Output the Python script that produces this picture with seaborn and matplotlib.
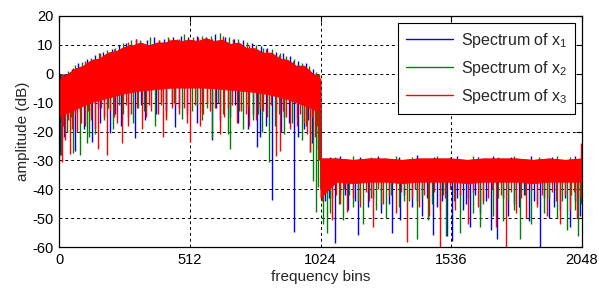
import numpy as np
import pandas as pd
import matplotlib
matplotlib.use("Agg")
import matplotlib.pyplot as plt
import seaborn as sns

# ---------------- data ----------------
LABELS = ["Spectrum of x$_{\\mathregular{1}}$",
          "Spectrum of x$_{\\mathregular{2}}$",
          "Spectrum of x$_{\\mathregular{3}}$"]
COLORS = ["#0000ff", "#008000", "#ff0000"]

# upper edge knots (frequency bins)
UP_BINS = list(range(0, 1025, 32)) + [1025] + list(range(1088, 2049, 64))
# lower edge knots
LO_BINS = list(range(0, 1025, 64)) + [1025] + list(range(1088, 2049, 64))

x1_upper = [-3, -1, 1, 2, 4, 4.5, 6.5, 7, 8.5, 9, 10, 9, 10, 10, 11, 10.5, 11,
            10.5, 11.5, 10.5, 11, 9.5, 10, 8, 8, 6.5, 6.5, 4.5, 4, 2, 2, -0.5, -2.5,
            -30, -30, -30.5, -30, -30, -30.5, -30, -30, -30, -30.5, -30, -30, -30, -30.5, -30, -30.5, -30]
x2_upper = [-3, -1, 1, 2, 4, 4.5, 6.5, 7, 8.5, 9, 10, 9, 10, 10, 11, 10.5, 11,
            10.5, 11.5, 10.5, 11, 9.5, 10, 8, 8, 6.5, 6.5, 4.5, 4, 2, 2, -0.5, -2.5,
            -30, -30, -30.5, -30, -30, -30.5, -30, -30, -30, -30.5, -30, -30, -30, -30.5, -30, -30.5, -30]
x3_upper = [-2.5, -0.5, 1.5, 2.5, 4.5, 5, 7, 7.5, 9, 9.5, 10.5, 9.5, 10.5, 10.5, 11.5, 11, 11.5,
            11, 12, 11, 11.5, 10, 10.5, 8.5, 8.5, 7, 7, 5, 4.5, 2.5, 2.5, 0, -2,
            -29.5, -29.5, -30, -29.5, -29.5, -30, -29.5, -29.5, -29.5, -30, -29.5, -29.5, -29.5, -30, -29.5, -30, -29.5]

x1_lower = [-12, -10, -8, -7, -6, -5, -5, -4.5, -4.5, -4.5, -5, -5.5, -6, -7, -8, -9, -11,
            -40, -37, -37, -37, -37, -37, -37, -37, -37, -37, -37, -37, -37, -37, -37, -37, -37]
x2_lower = [-12, -10, -8.5, -7, -6, -5.5, -5, -4.5, -4.5, -5, -5, -5.5, -6, -7, -8, -9.5, -11,
            -40, -37, -37, -37, -37, -37, -37, -37, -37, -37, -37, -37, -37, -37, -37, -37, -37]
x3_lower = [-15, -12.5, -10, -8.5, -7, -6, -5.5, -5, -5, -5, -5.5, -6, -6.5, -7.5, -9, -11, -13.5,
            -43, -37.5, -38, -37.5, -37.5, -38, -37.5, -37.5, -37.5, -38, -37.5, -37.5, -37.5, -38, -37.5, -37.5, -37.5]

# downward spikes: (bin, depth dB)
x1_dips = [(2, -28), (20, -22), (50, -15), (62, -26.6), (80, -13), (95, -19), (127, -23.5), (150, -12),
           (160, -17), (199, -20.5), (220, -14), (241, -18), (270, -15), (297, -22.2), (320, -11),
           (336, -16), (380, -14), (420, -13), (440, -10), (454, -18.3), (470, -12), (500, -14),
           (539, -17), (560, -11), (597, -23), (615, -12), (630, -16), (670, -15), (690, -11),
           (700, -17), (740, -19), (760, -14), (774, -25.2), (787, -22), (810, -18), (833, -43.6),
           (850, -13), (870, -20), (880, -15), (900, -17), (920, -54.6), (936, -22), (960, -19),
           (975, -16), (990, -24), (1012, -26),
           (1041, -44), (1055, -43), (1080, -58.6), (1100, -42), (1120, -42), (1130, -47), (1160, -44),
           (1171, -55.7), (1210, -46), (1230, -43), (1260, -48), (1290, -45), (1302, -55), (1334, -50.6),
           (1350, -42), (1380, -46), (1400, -44), (1420, -49), (1440, -43), (1465, -55.6), (1480, -46),
           (1500, -44), (1518, -56), (1537, -57.8), (1560, -43), (1580, -47), (1595, -45), (1609, -53),
           (1630, -42), (1650, -48), (1670, -44), (1690, -54), (1714, -57), (1740, -43), (1760, -49),
           (1780, -45), (1800, -46), (1820, -42), (1840, -51), (1860, -44), (1883, -60), (1900, -43),
           (1920, -50), (1940, -46), (1960, -47), (1980, -43), (2000, -53), (2020, -44), (2039, -49)]
x2_dips = [(5, -28), (30, -20), (45, -15), (55, -27.5), (82, -28), (108, -24), (115, -22), (125, -14),
           (140, -21), (175, -16), (190, -12), (211, -19), (235, -11), (250, -14), (290, -17), (310, -12),
           (330, -13), (375, -18), (400, -11), (420, -15), (450, -10), (480, -15.8), (520, -13),
           (540, -11), (560, -16), (580, -12), (597, -22), (620, -10), (640, -14), (662, -20.7),
           (669, -26), (705, -13), (721, -19), (740, -12), (760, -16), (780, -14), (795, -20),
           (823, -30.4), (845, -18), (860, -14), (880, -21), (910, -17), (930, -15), (950, -23),
           (965, -18), (983, -27), (994, -37), (1004, -47.7), (1015, -39),
           (1032, -52), (1049, -55), (1060, -48), (1070, -43), (1095, -45), (1112, -50.6), (1135, -42),
           (1150, -46), (1170, -44), (1190, -52), (1220, -43), (1240, -47), (1260, -45), (1280, -50),
           (1300, -42), (1330, -46), (1350, -44), (1370, -44), (1400, -57), (1420, -43), (1445, -50.5),
           (1460, -45), (1490, -47), (1505, -42), (1517, -56), (1545, -44), (1570, -55), (1600, -43),
           (1620, -48), (1648, -53), (1660, -45), (1700, -49), (1720, -43), (1740, -51), (1760, -44),
           (1780, -47), (1804, -57), (1825, -42), (1850, -52), (1870, -45), (1900, -48), (1920, -43),
           (1950, -50), (1970, -44), (1990, -54), (2005, -42), (2020, -47), (2032, -56), (2045, -45)]
x3_dips = [(0, -31), (9, -30.4), (15, -18), (22, -23), (33, -16), (42, -27.6), (50, -19), (60, -14),
           (70, -20), (85, -17), (100, -18), (112, -13), (125, -16), (138, -19), (152, -26), (165, -12),
           (175, -15), (186, -28), (200, -13), (215, -15), (228, -17), (245, -23.8), (260, -11),
           (270, -18), (280, -14), (305, -12), (323, -19), (340, -15), (350, -11), (360, -13),
           (385, -14), (398, -10), (407, -22), (420, -16), (440, -12), (455, -11), (470, -14),
           (490, -12), (500, -17), (512, -23.6), (530, -11), (551, -18), (565, -14), (578, -10),
           (590, -13), (610, -12), (629, -20.7), (645, -15), (660, -12), (675, -11), (695, -17),
           (710, -13), (730, -14), (745, -18), (770, -16), (785, -12), (800, -13), (815, -15),
           (830, -11), (850, -28.5), (864, -26.6), (875, -13), (890, -15), (905, -19), (930, -18),
           (945, -14), (958, -17), (970, -21), (983, -27), (990, -15), (1000, -22), (1010, -18), (1018, -30),
           (1028, -44), (1045, -41), (1067, -50.6), (1085, -42), (1100, -45), (1115, -40), (1126, -47.7),
           (1150, -43), (1180, -46), (1200, -41), (1215, -44), (1230, -53), (1250, -40), (1270, -45),
           (1290, -42), (1320, -48), (1340, -41), (1361, -58), (1380, -43), (1395, -40), (1410, -46),
           (1430, -42), (1450, -49), (1470, -41), (1491, -60), (1510, -43), (1530, -40), (1550, -47),
           (1570, -42), (1600, -52), (1620, -41), (1640, -46), (1660, -44), (1680, -43), (1695, -40),
           (1710, -53), (1730, -42), (1752, -60), (1770, -41), (1790, -48), (1810, -43), (1830, -50),
           (1850, -40), (1870, -46), (1890, -42), (1910, -49), (1930, -41), (1945, -44), (1961, -52),
           (1980, -42), (2000, -47), (2015, -41), (2030, -50), (2040, -43)]

# upward peaks: (bin, peak dB)
x1_peaks = [(15, 0), (48, 1.5), (75, 3.5), (110, 5), (140, 6.5), (170, 7.5), (205, 8.5), (235, 10),
            (262, 10.5), (300, 12), (345, 11.5), (372, 12.5), (410, 12), (445, 12.5), (475, 13),
            (505, 12.5), (540, 13), (575, 12.5), (612, 13.5), (650, 12.5), (685, 12), (720, 11.5),
            (755, 10.5), (790, 9.5), (815, 9), (850, 7.5), (875, 7), (905, 6), (935, 4.5), (965, 3.5),
            (995, 1.5), (1015, 0),
            (1060, -28.8), (1100, -28.5), (1180, -28.8), (1250, -28.5), (1330, -28.8), (1400, -28),
            (1470, -28.8), (1560, -28.5), (1640, -28.8), (1700, -28.5), (1770, -28.8), (1850, -28.3),
            (1930, -28.8), (2020, -28.5)]
x2_peaks = [(8, -0.5), (35, 1), (60, 3), (90, 4), (125, 5.5), (155, 7), (185, 8), (220, 9),
            (250, 10.5), (280, 11.5), (315, 11.5), (355, 12.5), (390, 11.5), (425, 12.5), (460, 12),
            (490, 13.5), (525, 12.5), (560, 13), (595, 13), (630, 14), (665, 12.5), (700, 12),
            (735, 11), (770, 10), (800, 9), (835, 8.5), (865, 7), (890, 6), (920, 5), (950, 3.5),
            (980, 2.5), (1005, 0.5),
            (1080, -28.8), (1150, -28.5), (1220, -28.8), (1320, -28.5), (1380, -28.8), (1480, -28.3),
            (1530, -28.8), (1620, -28.5), (1720, -28.8), (1780, -28.3), (1880, -28.8), (1950, -28.5),
            (2000, -28.8)]
x3_peaks = [(25, 0), (55, 2), (100, 4.5), (160, 7), (215, 8.5), (270, 11), (300, 12), (390, 11.5),
            (430, 12), (470, 12), (545, 12.5), (600, 12), (640, 13), (680, 12), (745, 10), (810, 8.5),
            (860, 6.5), (915, 4.5), (980, 1.5), (2046, -24)]

X_TICKS = [0, 512, 1024, 1536, 2048]
Y_TICKS = [-60, -50, -40, -30, -20, -10, 0, 10, 20]

# ---------------- styling ----------------
sns.set_theme(style="white")
plt.rcParams["font.family"] = ["Liberation Sans", "DejaVu Sans"]
plt.rcParams["mathtext.fontset"] = "custom"
plt.rcParams["mathtext.rm"] = "Liberation Sans"
plt.rcParams["mathtext.it"] = "Liberation Sans:italic"

fig = plt.figure(figsize=(5.99, 2.90), dpi=100)
ax = fig.add_axes([0.099, 0.147, 0.8726, 0.799])

series = [(x1_upper, x1_lower, x1_dips, x1_peaks),
          (x2_upper, x2_lower, x2_dips, x2_peaks),
          (x3_upper, x3_lower, x3_dips, x3_peaks)]

# upper edges via seaborn (also provides the legend entries)
env = pd.concat([pd.DataFrame({"bin": UP_BINS, "amp": s[0], "series": lab})
                 for s, lab in zip(series, LABELS)], ignore_index=True)
sns.lineplot(data=env, x="bin", y="amp", hue="series", palette=COLORS,
             linewidth=0.8, ax=ax, zorder=1, estimator=None, sort=False)

up_bins = np.array(UP_BINS)
lo_bins = np.array(LO_BINS)
for k, ((up, lo, dips, peaks), col) in enumerate(zip(series, COLORS)):
    z = 2 + k
    xs = np.concatenate([up_bins, lo_bins[::-1]])
    ys = np.concatenate([np.array(up), np.array(lo)[::-1]])
    ax.fill(xs, ys, color=col, lw=0.6, ec=col, zorder=z)
    d = np.array(dips, dtype=float)
    base = np.where(d[:, 0] < 1024, 0, -33)
    ax.vlines(d[:, 0], d[:, 1], base, color=col, lw=1.0, zorder=z)
    p = np.array(peaks, dtype=float)
    base = np.where(p[:, 0] < 1024, 0, -33)
    ax.vlines(p[:, 0], base, p[:, 1], color=col, lw=1.0, zorder=z)

ax.set_xlim(0, 2048)
ax.set_ylim(-60, 20)
ax.set_xticks(X_TICKS)
ax.set_yticks(Y_TICKS)
ax.set_xticklabels([str(t) for t in X_TICKS])
ax.set_yticklabels([str(t) for t in Y_TICKS])
ax.tick_params(direction="in", length=4, width=0.8, top=True, right=True,
               labelsize=10.5, colors="black", pad=4)
for sp in ax.spines.values():
    sp.set_color("black")
    sp.set_linewidth(0.9)
    sp.set_zorder(10)
ax.grid(True, color="black", linestyle=(0, (3, 3)), linewidth=0.7, zorder=0)
ax.set_axisbelow(True)

ax.set_xlabel("frequency bins", fontsize=11, labelpad=2)
ax.set_ylabel("amplitude (dB)", fontsize=11, labelpad=2)

handles, labels = ax.get_legend_handles_labels()
leg = ax.legend(handles, labels, loc="upper right", bbox_to_anchor=(0.987, 0.968),
                borderaxespad=0, frameon=True, fancybox=False, framealpha=1,
                edgecolor="black", fontsize=11.5, handlelength=2.9, handletextpad=0.5,
                labelspacing=0.55, borderpad=0.5)
leg.get_frame().set_linewidth(0.8)
leg.set_zorder(20)
for h in leg.get_lines():
    h.set_linewidth(1.0)

fig.savefig("out.png", dpi=100)
